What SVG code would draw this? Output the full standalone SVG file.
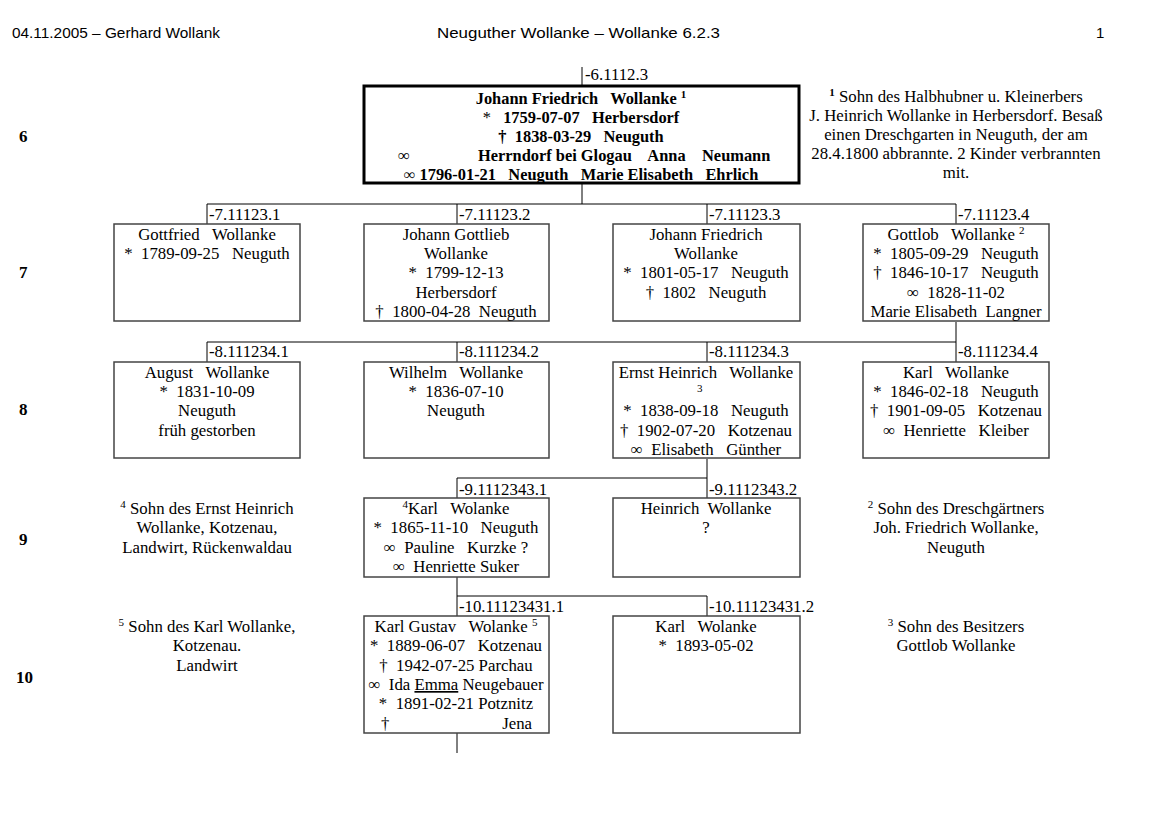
<svg xmlns="http://www.w3.org/2000/svg" width="1169" height="826" viewBox="0 0 1169 826">
<style>
text{font-family:"Liberation Serif","Times New Roman",serif;font-size:16.8px;fill:#000;white-space:pre}
.c{text-anchor:middle}
.b{font-weight:bold;font-size:16.4px}
.hdr{font-family:"Liberation Sans",Arial,sans-serif;font-size:15px}
.gen{font-weight:bold;font-size:17px}
.box{fill:none;stroke:#444;stroke-width:1.5}
.main{fill:none;stroke:#000;stroke-width:3}
.ln{stroke:#000;stroke-width:1;fill:none}
.sup{font-size:11px}
</style>
<rect width="1169" height="826" fill="#fff"/>
<g id="header">
<text class="hdr" x="12" y="38" textLength="208" lengthAdjust="spacingAndGlyphs">04.11.2005 – Gerhard Wollank</text>
<text class="hdr" x="437" y="38" textLength="283" lengthAdjust="spacingAndGlyphs">Neuguther Wollanke – Wollanke 6.2.3</text>
<text class="hdr" x="1096" y="38">1</text>
</g>
<g id="generations">
<text class="gen" x="19" y="142">6</text>
<text class="gen" x="19" y="278">7</text>
<text class="gen" x="19" y="415">8</text>
<text class="gen" x="19" y="545">9</text>
<text class="gen" x="16" y="683">10</text>
</g>
<g id="connectors">
<path class="ln" d="M582,67V86 M582,184V204 M207,204H956 M207,204V224 M457,204V224 M707,204V224 M956,204V224"/>
<path class="ln" d="M956,322V342 M207,342H956 M207,342V362 M457,342V362 M707,342V362 M956,342V362"/>
<path class="ln" d="M707,459V478 M457,478H707 M457,478V498 M707,478V498"/>
<path class="ln" d="M457,577V596 M457,596H707 M457,596V616 M707,596V616 M457,733V753"/>
<text x="585" y="80">-6.1112.3</text>
<text x="209" y="220">-7.11123.1</text>
<text x="459" y="220">-7.11123.2</text>
<text x="709" y="220">-7.11123.3</text>
<text x="958" y="220">-7.11123.4</text>
<text x="209" y="357">-8.111234.1</text>
<text x="459" y="357">-8.111234.2</text>
<text x="709" y="357">-8.111234.3</text>
<text x="958" y="357">-8.111234.4</text>
<text x="459" y="495">-9.1112343.1</text>
<text x="709" y="495">-9.1112343.2</text>
<text x="459" y="612">-10.11123431.1</text>
<text x="709" y="612">-10.11123431.2</text>
</g>
<g id="n6">
<rect class="main" x="364" y="86" width="435" height="97"/>
<text class="c b" x="581" y="104">Johann Friedrich   Wollanke <tspan class="sup" dy="-6">1</tspan></text>
<text class="c b" x="581" y="123"><tspan font-weight="normal">*</tspan>   1759-07-07   Herbersdorf</text>
<text class="c b" x="581" y="142">†  1838-03-29   Neuguth</text>
<text x="398" y="161">∞</text>
<text class="b" x="478" y="161">Herrndorf bei Glogau    Anna    Neumann</text>
<text class="c b" x="581" y="180"><tspan font-weight="normal">∞</tspan> 1796-01-21   Neuguth   Marie Elisabeth   Ehrlich</text>
</g>
<g id="note1">
<text class="c" x="956" y="102"><tspan class="sup" font-weight="bold" dy="-6">1</tspan><tspan dy="6"> Sohn des Halbhubner u. Kleinerbers</tspan></text>
<text class="c" x="956" y="121">J. Heinrich Wollanke in Herbersdorf. Besaß</text>
<text class="c" x="956" y="140">einen Dreschgarten in Neuguth, der am</text>
<text class="c" x="956" y="159">28.4.1800 abbrannte. 2 Kinder verbrannten</text>
<text class="c" x="956" y="178">mit.</text>
</g>
<g id="n7_1">
<rect class="box" x="114" y="224" width="186" height="97"/>
<text class="c" x="207" y="240">Gottfried   Wollanke</text>
<text class="c" x="207" y="259">*  1789-09-25   Neuguth</text>
</g>
<g id="n7_2">
<rect class="box" x="364" y="224" width="185" height="97"/>
<text class="c" x="456" y="240">Johann Gottlieb</text>
<text class="c" x="456" y="259">Wollanke</text>
<text class="c" x="456" y="278">*  1799-12-13</text>
<text class="c" x="456" y="298">Herbersdorf</text>
<text class="c" x="456" y="317">†  1800-04-28  Neuguth</text>
</g>
<g id="n7_3">
<rect class="box" x="613" y="224" width="187" height="97"/>
<text class="c" x="706" y="240">Johann Friedrich</text>
<text class="c" x="706" y="259">Wollanke</text>
<text class="c" x="706" y="278">*  1801-05-17   Neuguth</text>
<text class="c" x="706" y="298">†  1802   Neuguth</text>
</g>
<g id="n7_4">
<rect class="box" x="863" y="224" width="186" height="97"/>
<text class="c" x="956" y="240">Gottlob   Wollanke <tspan class="sup" dy="-6">2</tspan></text>
<text class="c" x="956" y="259">*  1805-09-29   Neuguth</text>
<text class="c" x="956" y="278">†  1846-10-17   Neuguth</text>
<text class="c" x="956" y="298">∞  1828-11-02</text>
<text class="c" x="956" y="317">Marie Elisabeth  Langner</text>
</g>
<g id="n8_1">
<rect class="box" x="114" y="362" width="186" height="96"/>
<text class="c" x="207" y="378">August   Wollanke</text>
<text class="c" x="207" y="397">*  1831-10-09</text>
<text class="c" x="207" y="416">Neuguth</text>
<text class="c" x="207" y="436">früh gestorben</text>
</g>
<g id="n8_2">
<rect class="box" x="364" y="362" width="185" height="96"/>
<text class="c" x="456" y="378">Wilhelm   Wollanke</text>
<text class="c" x="456" y="397">*  1836-07-10</text>
<text class="c" x="456" y="416">Neuguth</text>
</g>
<g id="n8_3">
<rect class="box" x="613" y="362" width="187" height="96"/>
<text class="c" x="706" y="378">Ernst Heinrich   Wollanke</text>
<text class="sup" x="697" y="392">3</text>
<text class="c" x="706" y="416">*  1838-09-18   Neuguth</text>
<text class="c" x="706" y="436">†  1902-07-20   Kotzenau</text>
<text class="c" x="706" y="455">∞  Elisabeth   Günther</text>
</g>
<g id="n8_4">
<rect class="box" x="863" y="362" width="186" height="96"/>
<text class="c" x="956" y="378">Karl   Wollanke</text>
<text class="c" x="956" y="397">*  1846-02-18   Neuguth</text>
<text class="c" x="956" y="416">†  1901-09-05   Kotzenau</text>
<text class="c" x="956" y="436">∞  Henriette   Kleiber</text>
</g>
<g id="note4">
<text class="c" x="207" y="514"><tspan class="sup" dy="-6">4</tspan><tspan dy="6"> Sohn des Ernst Heinrich</tspan></text>
<text class="c" x="207" y="533">Wollanke, Kotzenau,</text>
<text class="c" x="207" y="553">Landwirt, Rückenwaldau</text>
</g>
<g id="n9_1">
<rect class="box" x="364" y="498" width="185" height="79"/>
<text class="c" x="456" y="514"><tspan class="sup" dy="-6">4</tspan><tspan dy="6">Karl   Wolanke</tspan></text>
<text class="c" x="456" y="533">*  1865-11-10   Neuguth</text>
<text class="c" x="456" y="553">∞  Pauline   Kurzke ?</text>
<text class="c" x="456" y="572">∞  Henriette Suker</text>
</g>
<g id="n9_2">
<rect class="box" x="613" y="498" width="187" height="79"/>
<text class="c" x="706" y="514">Heinrich  Wollanke</text>
<text class="c" x="706" y="533">?</text>
</g>
<g id="note2">
<text class="c" x="956" y="514"><tspan class="sup" dy="-6">2</tspan><tspan dy="6"> Sohn des Dreschgärtners</tspan></text>
<text class="c" x="956" y="533">Joh. Friedrich Wollanke,</text>
<text class="c" x="956" y="553">Neuguth</text>
</g>
<g id="note5">
<text class="c" x="207" y="632"><tspan class="sup" dy="-6">5</tspan><tspan dy="6"> Sohn des Karl Wollanke,</tspan></text>
<text class="c" x="207" y="651">Kotzenau.</text>
<text class="c" x="207" y="671">Landwirt</text>
</g>
<g id="n10_1">
<rect class="box" x="364" y="616" width="185" height="117"/>
<text class="c" x="456" y="632">Karl Gustav   Wolanke <tspan class="sup" dy="-6">5</tspan></text>
<text class="c" x="456" y="651">*  1889-06-07   Kotzenau</text>
<text class="c" x="456" y="671">†  1942-07-25 Parchau</text>
<text class="c" x="456" y="690">∞  Ida <tspan text-decoration="underline">Emma</tspan> Neugebauer</text>
<text class="c" x="456" y="709">*  1891-02-21 Potznitz</text>
<text x="381" y="729">†</text>
<text x="532" y="729" text-anchor="end">Jena</text>
</g>
<g id="n10_2">
<rect class="box" x="613" y="616" width="187" height="117"/>
<text class="c" x="706" y="632">Karl   Wolanke</text>
<text class="c" x="706" y="651">*  1893-05-02</text>
</g>
<g id="note3">
<text class="c" x="956" y="632"><tspan class="sup" dy="-6">3</tspan><tspan dy="6"> Sohn des Besitzers</tspan></text>
<text class="c" x="956" y="651">Gottlob Wollanke</text>
</g>
</svg>
